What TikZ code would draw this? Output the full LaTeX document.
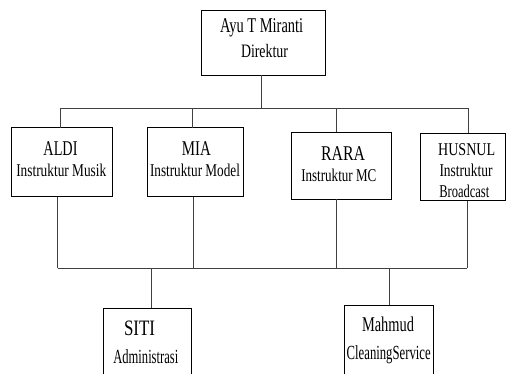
\documentclass[tikz,border=0pt]{standalone}
\usepackage{fontspec}
\usepackage{graphicx}
\setmainfont{Liberation Serif}
\newcommand{\tx}[3]{\resizebox{#1pt}{\height}{\fontsize{#2}{#2}\selectfont #3}}
\begin{document}
\begin{tikzpicture}[x=1pt,y=-1pt,
  box/.style={draw=black,line width=1pt,fill=white,inner sep=0pt,outer sep=0pt,anchor=north west},
  lbl/.style={anchor=base,inner sep=0pt,text=black},
  conn/.style={draw=black!75,line width=0.8pt}]
\useasboundingbox (0,0) rectangle (506,373);
\clip (0,0) rectangle (506,373);
\fill[white] (0,0) rectangle (506,373);
% boxes
\node[box,minimum width=124.7pt,minimum height=64.3pt] (top) at (201,10.7) {};
\node[box,minimum width=101pt,minimum height=69pt] (aldi) at (11.7,127.7) {};
\node[box,minimum width=96pt,minimum height=69pt] (mia) at (147.7,127.7) {};
\node[box,minimum width=100pt,minimum height=67.3pt] (rara) at (291,132) {};
\node[box,minimum width=84.6pt,minimum height=67.7pt] (husnul) at (420.7,133) {};
\node[box,minimum width=88pt,minimum height=90pt] (siti) at (103.3,308.3) {};
\node[box,minimum width=89pt,minimum height=90pt] (mahmud) at (344.3,305) {};
% labels
\node[lbl] (t1) at (261.7,32.5) {\tx{83}{21}{Ayu T Miranti}};
\node[lbl] (t2) at (264.5,57.5) {\tx{47}{19}{Direktur}};
\node[lbl] (a1) at (60.5,155.5) {\tx{34}{21}{ALDI}};
\node[lbl] (a2) at (61.3,176.5) {\tx{90}{18}{Instruktur Musik}};
\node[lbl] (m1) at (196.3,155.5) {\tx{29}{21}{MIA}};
\node[lbl] (m2) at (195,176.5) {\tx{90}{18}{Instruktur Model}};
\node[lbl] (r1) at (343,160) {\tx{44}{21}{RARA}};
\node[lbl] (r2) at (338.8,181.5) {\tx{75}{18}{Instruktur MC}};
\node[lbl] (h1) at (466.7,155) {\tx{57}{18}{HUSNUL}};
\node[lbl] (h2) at (466,176.7) {\tx{53}{18}{Instruktur}};
\node[lbl] (h3) at (464.3,197.5) {\tx{50}{18}{Broadcast}};
\node[lbl] (s1) at (139.5,335) {\tx{31}{22}{SITI}};
\node[lbl] (s2) at (145.8,363) {\tx{65}{20}{Administrasi}};
\node[lbl] (x1) at (388,331.7) {\tx{52}{21}{Mahmud}};
\node[lbl] (x2) at (388.7,359.5) {\tx{84}{20}{CleaningService}};
% connector points
\coordinate (dtop) at (261.7,108);
\coordinate (tbl) at (60,108);
\coordinate (tbm) at (192.7,108);
\coordinate (tbr) at (336.7,108);
\coordinate (tbh) at (468.3,108);
\coordinate (bba) at (57.7,268.3);
\coordinate (bbm) at (193.3,268.3);
\coordinate (bbr) at (336,268.3);
\coordinate (bbh) at (467.3,268.3);
\coordinate (bbs) at (151,268.3);
\coordinate (bbx) at (389,268.3);
% upper connectors
\draw[conn] (dtop |- top.south) -- (dtop);
\draw[conn] (tbl) -- (tbh);
\draw[conn] (tbl) -- (tbl |- aldi.north);
\draw[conn] (tbm) -- (tbm |- mia.north);
\draw[conn] (tbr) -- (tbr |- rara.north);
\draw[conn] (tbh) -- (tbh |- husnul.north);
% lower connectors
\draw[conn] (bba |- aldi.south) -- (bba);
\draw[conn] (bbm |- mia.south) -- (bbm);
\draw[conn] (bbr |- rara.south) -- (bbr);
\draw[conn] (bbh |- husnul.south) -- (bbh);
\draw[conn] (bba) -- (bbh);
\draw[conn] (bbs) -- (bbs |- siti.north);
\draw[conn] (bbx) -- (bbx |- mahmud.north);
\end{tikzpicture}
\end{document}
